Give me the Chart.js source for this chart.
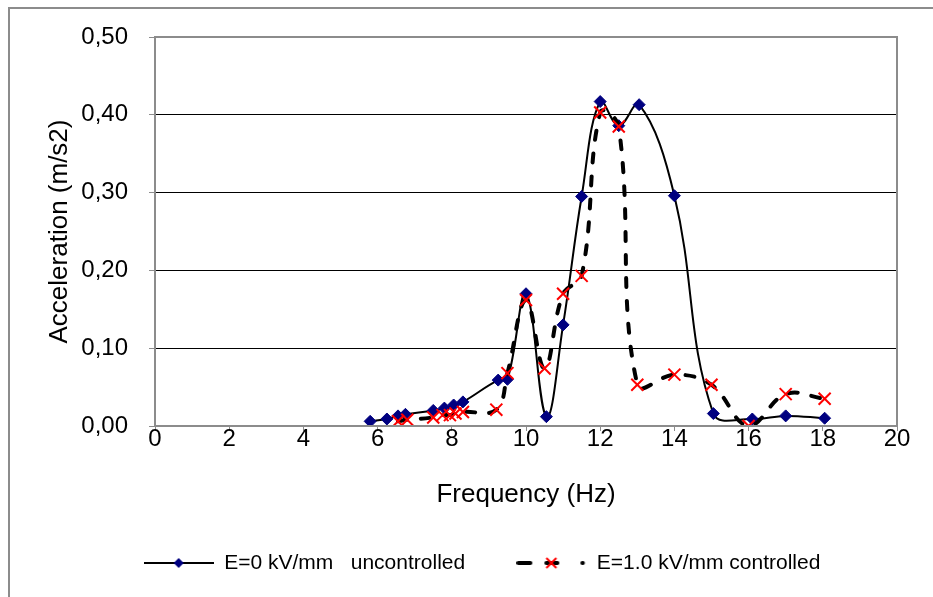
<!DOCTYPE html>
<html>
<head>
<meta charset="utf-8">
<script src="https://cdn.jsdelivr.net/npm/chart.js@4.4.1/dist/chart.umd.min.js"></script>
<style>
    html, body { margin: 0; padding: 0; background: #fff; overflow: hidden; }
    #moldura { position: absolute; left: 8px; top: 7px; width: 1000px; height: 700px;
               border-left: 2px solid #8c8c8c; border-top: 2px solid #8c8c8c; }
    #grafico { position: absolute; left: 0; top: 0; }
</style>
</head>
<body>
<div id="moldura"></div>
<canvas id="grafico" width="933" height="597"></canvas>
<script>
// valores
const freqSemControle = [5.8, 6.25, 6.55, 6.75, 7.5, 7.8, 8.05, 8.3, 9.25, 9.5, 10.0, 10.55, 11.0, 11.5, 12.0, 12.5, 13.05, 14.0, 15.05, 16.1, 17.0, 18.05];
const acelSemControle = [0.006, 0.009, 0.013, 0.015, 0.020, 0.023, 0.027, 0.031, 0.059, 0.060, 0.170, 0.012, 0.130, 0.295, 0.417, 0.386, 0.413, 0.296, 0.016, 0.009, 0.013, 0.010];

const freqControlado = [6.55, 6.8, 7.5, 7.75, 7.95, 8.1, 8.3, 9.2, 9.5, 10.0, 10.5, 11.0, 11.5, 12.0, 12.5, 13.0, 14.0, 15.0, 16.0, 17.0, 18.05];
const acelControlado = [0.006, 0.008, 0.011, 0.014, 0.014, 0.016, 0.018, 0.021, 0.068, 0.162, 0.074, 0.170, 0.193, 0.403, 0.385, 0.053, 0.066, 0.053, 0.000, 0.041, 0.035];

const nomesSeries = ['E=0 kV/mm   uncontrolled', 'E=1.0 kV/mm controlled'];
const tituloX = 'Frequency (Hz)';
const tituloY = 'Acceleration (m/s2)';

const CINZA = '#8c8c8c';

function montaPontos(xs, ys) {
    let pontos = [];
    for (let i = 0; i < xs.length; i++) {
        pontos.push({x: xs[i], y: ys[i]});
    }
    return pontos;
}

// amostras da legenda: linha + marcador
function amostraSolida() {
    let c = document.createElement('canvas');
    c.width = 70; c.height = 20;
    let g = c.getContext('2d');
    g.strokeStyle = '#000';
    g.lineWidth = 2;
    g.beginPath(); g.moveTo(0, 10); g.lineTo(70, 10); g.stroke();
    g.fillStyle = '#000080';
    g.beginPath();
    g.moveTo(35, 5); g.lineTo(40, 10); g.lineTo(35, 15); g.lineTo(30, 10);
    g.closePath(); g.fill();
    return c;
}

function amostraTracejada() {
    let c = document.createElement('canvas');
    c.width = 70; c.height = 20;
    let g = c.getContext('2d');
    g.strokeStyle = '#000';
    g.lineWidth = 4;
    g.lineCap = 'round';
    [[2, 14], [30, 41], [66, 66.5]].forEach(function(s) {
        g.beginPath(); g.moveTo(s[0], 10); g.lineTo(s[1], 10); g.stroke();
    });
    g.strokeStyle = '#ff0000';
    g.lineWidth = 2;
    g.lineCap = 'butt';
    g.beginPath();
    g.moveTo(30, 5); g.lineTo(40, 15);
    g.moveTo(40, 5); g.lineTo(30, 15);
    g.stroke();
    return c;
}

// borda cinza da area de plotagem
const bordaPlot = {
    id: 'bordaPlot',
    afterDatasetsDraw(chart) {
        let a = chart.chartArea;
        let ctx = chart.ctx;
        ctx.save();
        ctx.strokeStyle = CINZA;
        ctx.lineWidth = 2;
        ctx.strokeRect(a.left, a.top, a.right - a.left, a.bottom - a.top);
        ctx.restore();
    }
};

Chart.defaults.font.family = '"Liberation Sans", Arial, sans-serif';
Chart.defaults.color = '#000';

const amostras = [amostraSolida(), amostraTracejada()];

const dataset = {
    datasets: [
        {
            label: nomesSeries[1],
            data: montaPontos(freqControlado, acelControlado),
            borderColor: '#000',
            borderWidth: 4,
            borderDash: [9, 14],
            borderCapStyle: 'round',
            tension: 0.4,
            pointStyle: 'crossRot',
            pointRadius: 8.5,
            pointBorderColor: '#ff0000',
            pointBorderWidth: 2,
            pointBackgroundColor: '#ff0000',
        },
        {
            label: nomesSeries[0],
            data: montaPontos(freqSemControle, acelSemControle),
            borderColor: '#000',
            borderWidth: 2,
            tension: 0.4,
            pointStyle: 'rectRot',
            pointRadius: 6,
            pointBorderWidth: 1,
            pointBorderColor: '#000080',
            pointBackgroundColor: '#000080',
        }
    ]
};

const config = {
    type: 'line',
    data: dataset,
    options: {
        responsive: false,
        animation: false,
        layout: { padding: { left: 31, right: 0, top: 37, bottom: 13.5 } },
        plugins: {
            tooltip: { enabled: false },
            legend: {
                position: 'bottom',
                labels: {
                    font: { size: 21 },
                    usePointStyle: true,
                    pointStyleWidth: 70,
                    padding: 22,
                    generateLabels: function() {
                        // ordem da legenda: sem controle primeiro
                        return [
                            { text: nomesSeries[0] + '     ', pointStyle: amostras[0], datasetIndex: 1, hidden: false, lineWidth: 0, fillStyle: '#fff', strokeStyle: '#fff' },
                            { text: nomesSeries[1], pointStyle: amostras[1], datasetIndex: 0, hidden: false, lineWidth: 0, fillStyle: '#fff', strokeStyle: '#fff' }
                        ];
                    }
                }
            }
        },
        scales: {
            x: {
                type: 'linear',
                min: 0,
                max: 20,
                afterFit: function(s) { s.height = 104.5; },
                ticks: {
                    stepSize: 2,
                    font: { size: 24 },
                    padding: -6,
                    maxRotation: 0,
                },
                grid: {
                    drawOnChartArea: false,
                    tickLength: 5,
                    tickColor: CINZA,
                },
                border: { display: false },
                title: {
                    display: true,
                    text: tituloX,
                    font: { size: 26 },
                    padding: { top: 0, bottom: 20 },
                }
            },
            y: {
                min: 0,
                max: 0.5,
                afterFit: function(s) { s.width = 124; },
                ticks: {
                    stepSize: 0.1,
                    font: { size: 24 },
                    padding: 21,
                    callback: function(v) { return v.toFixed(2).replace('.', ','); }
                },
                grid: {
                    color: function(c) {
                        let v = c.tick ? c.tick.value : 0;
                        return (v < 0.001 || v > 0.499) ? 'rgba(0,0,0,0)' : '#000';
                    },
                    lineWidth: 1,
                    tickLength: 6,
                    tickColor: CINZA,
                },
                border: { display: false },
                title: {
                    display: true,
                    text: tituloY,
                    font: { size: 26 },
                    padding: { top: 13, bottom: 0 },
                }
            },
            // eixo vazio so para reservar a margem direita
            y2: {
                position: 'right',
                afterFit: function(s) { s.width = 36; },
                ticks: { display: false },
                grid: { display: false },
                border: { display: false },
            }
        }
    },
    plugins: [bordaPlot]
};

new Chart(document.getElementById('grafico').getContext('2d'), config);
</script>
</body>
</html>
